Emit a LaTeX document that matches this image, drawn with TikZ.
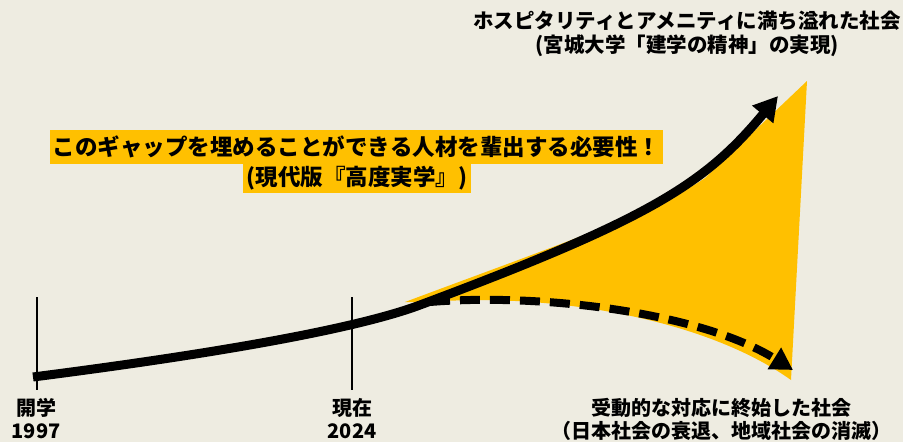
\documentclass[tikz,border=0pt]{standalone}
\usepackage{fontspec}
\newfontfamily\jpfont{Noto Sans CJK JP}
\usetikzlibrary{arrows.meta}
\definecolor{paper}{HTML}{EEECE1}
\definecolor{gold}{HTML}{FFC000}

\begin{document}
\begin{tikzpicture}[x=1pt,y=-1pt,
    label text/.style={align=center,inner sep=0pt,font=\jpfont\bfseries\fontsize{20.5}{24.5}\selectfont},
    foot text/.style={align=center,inner sep=0pt,font=\jpfont\bfseries\fontsize{20}{23}\selectfont},
    gap text/.style={fill=gold,inner sep=0pt,font=\jpfont\bfseries\fontsize{22.5}{27}\selectfont},
    growth/.style={line width=9pt,-{Triangle[length=24pt,width=26pt]}},
    decline/.style={line width=8pt,dash pattern=on 20pt off 10pt,-{Triangle[length=22pt,width=24pt]}},
    year line/.style={line width=1.5pt}]

            \useasboundingbox (0,0) rectangle (903,442);
            \fill[paper] (0,0) rectangle (903,442);

            \coordinate (open) at (33,377);
            \coordinate (fork) at (420,305);
            \coordinate (branch) at (430,302);
            \coordinate (ideal) at (778,96);
            \coordinate (decay) at (793,370);
            \coordinate (open top) at (37,297);
            \coordinate (open foot) at (37,390);
            \coordinate (now top) at (352,297);
            \coordinate (now foot) at (352,390);

            \fill[gold] (405,302) .. controls (560,244) and (655,212) .. (705,178) -- (807,81) -- (791,380)
                .. controls (700,315) and (540,293) .. (branch) -- cycle;

            \draw[year line] (open top) -- (open foot);
            \draw[year line] (now top) -- (now foot);

            \draw[decline] (branch) .. controls (540,293) and (700,312) .. (decay);
            \draw[growth] (open) .. controls (150,362) and (340,335) .. (fork)
                .. controls (650,219) and (705,184) .. (ideal);

            \node[gap text,minimum width=613pt,minimum height=34pt] (gap) at (356.5,147) {このギャップを埋めることができる人材を輩出する必要性！};
            \node[gap text,minimum width=228pt,minimum height=29pt] (gap note) at (357,178.5) {(現代版『高度実学』)};

            \node[label text] (ideal text) at (687,34) {ホスピタリティとアメニティに満ち溢れた社会\\(宮城大学「建学の精神」の実現)};
            \node[foot text] (open text) at (36,419) {開学\\1997};
            \node[foot text] (now text) at (352,419) {現在\\2024};
            \node[foot text] (decay text) at (721,419) {受動的な対応に終始した社会\\（日本社会の衰退、地域社会の消滅）};
        \end{tikzpicture}
\end{document}
